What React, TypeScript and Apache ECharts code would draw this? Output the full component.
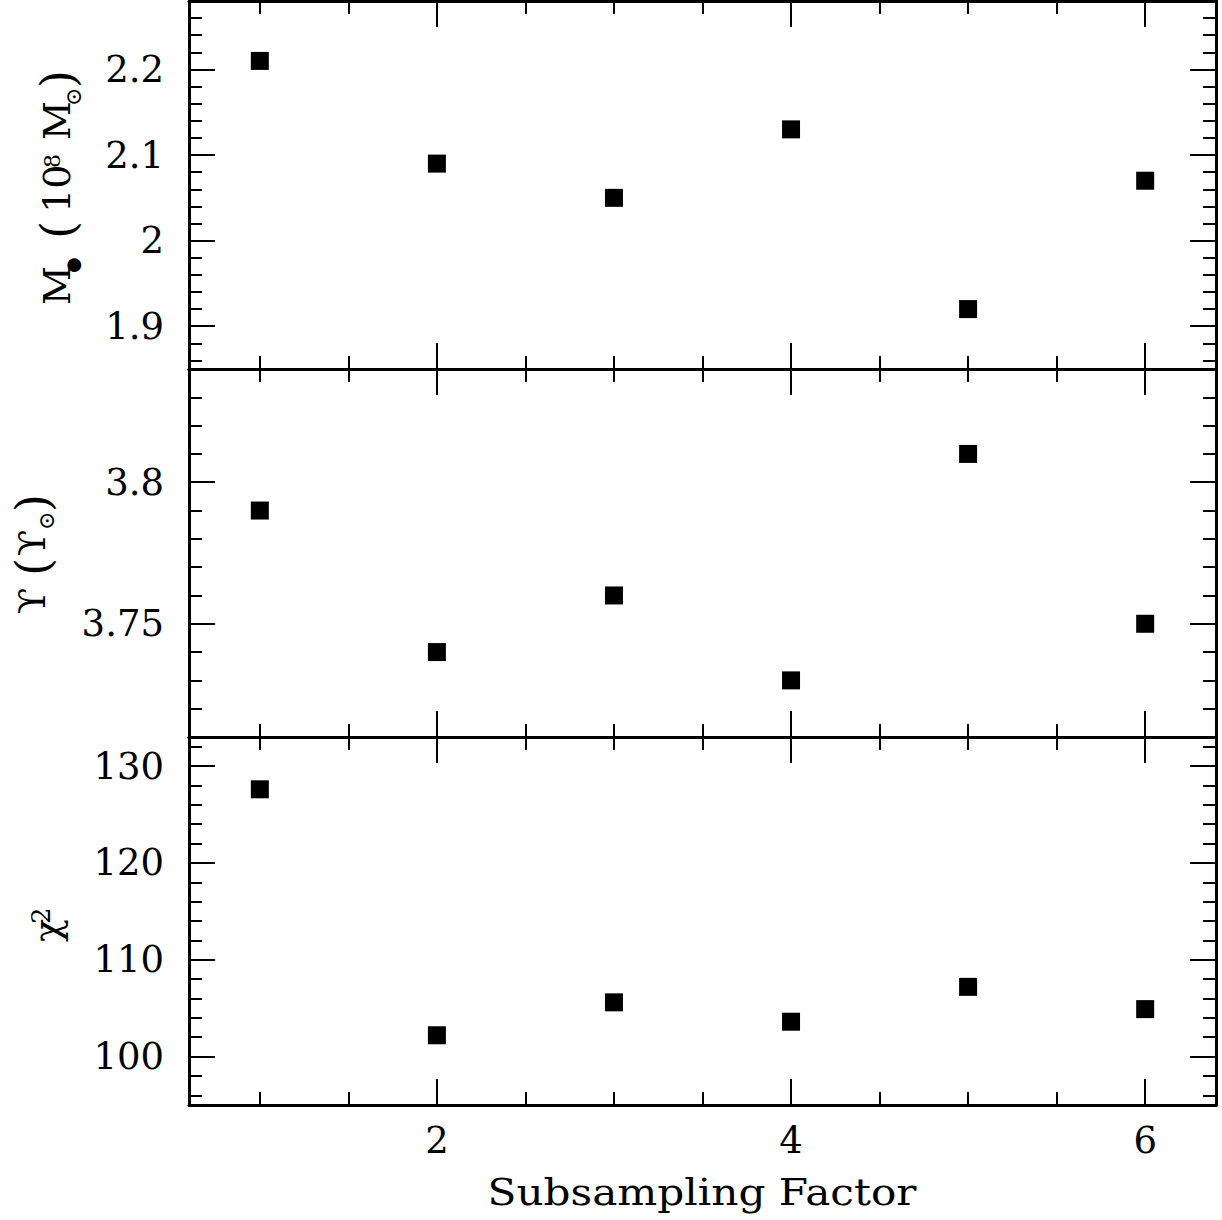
import React, { useEffect, useRef } from "react";
import * as echarts from "echarts";

// ---------------- data ----------------
const factors = [1, 2, 3, 4, 5, 6];
const massValues = [2.21, 2.09, 2.05, 2.13, 1.92, 2.07];
const mlValues = [3.79, 3.74, 3.76, 3.73, 3.81, 3.75];
const chi2Values = [127.6, 102.2, 105.6, 103.6, 107.2, 104.9];

const xMajorTicks = [2, 4, 6];
const xMinorTicks = [1, 1.5, 2.5, 3, 3.5, 4.5, 5, 5.5];

const massMajorTicks = [1.9, 2.0, 2.1, 2.2];
const mlMajorTicks = [3.75, 3.8];
const chi2MajorTicks = [100, 110, 120, 130];

const X_TITLE = "Subsampling Factor";

const X_MIN = 0.6;
const X_MAX = 6.4;

const FONT = '"DejaVu Serif", "Liberation Serif", serif';

function steps(start: number, end: number, step: number): number[] {
  const out: number[] = [];
  const n = Math.round((end - start) / step);
  for (let i = 0; i <= n; i++) out.push(+(start + i * step).toFixed(6));
  return out;
}

const panels = [
  { values: massValues, min: 1.85, max: 2.28, major: massMajorTicks, minor: steps(1.86, 2.28, 0.02) },
  { values: mlValues, min: 3.71, max: 3.84, major: mlMajorTicks, minor: steps(3.71, 3.84, 0.01) },
  { values: chi2Values, min: 95, max: 133, major: chi2MajorTicks, minor: steps(96, 132, 2) },
];

const GRID_LEFT = 189;
const GRID_RIGHT = 6;
const GRID_TOP = 1;
const PANEL_H = 368;

// part: text, font size, baseline shift (+ = subscript), screen y where the piece starts (reading upward)
type Part = { text: string; size: number; shift: number; at: number };

function rotatedLabel(parts: Part[], baselineX: number) {
  const children = parts.map((p) => ({
    type: "text",
    x: -p.at,
    y: p.shift - 0.35 * p.size,
    style: {
      text: p.text,
      fontSize: p.size,
      fontFamily: FONT,
      fill: "#000",
      align: "left",
      verticalAlign: "middle",
      textAlign: "left",
      textVerticalAlign: "middle",
    },
  }));
  return { type: "group", x: baselineX, y: 0, rotation: Math.PI / 2, children };
}

export default function App() {
  const ref = useRef<HTMLDivElement>(null);

  useEffect(() => {
    if (!ref.current) return;
    const chart = echarts.init(ref.current, null, { renderer: "svg" });

    const grids: any[] = [];
    const xAxes: any[] = [];
    const yAxes: any[] = [];
    const series: any[] = [];

    const lineStyle = { color: "#000", width: 3 };
    const tickStyle = { color: "#000", width: 2 };
    const labelStyle = { color: "#000", fontFamily: FONT, fontSize: 37 };

    panels.forEach((p, g) => {
      grids.push({
        left: GRID_LEFT,
        right: GRID_RIGHT,
        top: GRID_TOP + g * PANEL_H,
        height: PANEL_H,
      });
      const isBottom = g === panels.length - 1;

      const baseX = (position: string, ticks: number[], len: number, showLine: boolean, showLabel: boolean) => ({
        type: "value",
        gridIndex: g,
        position,
        min: X_MIN,
        max: X_MAX,
        axisLine: { show: showLine, lineStyle },
        axisTick: { show: true, inside: true, length: len, lineStyle: tickStyle, customValues: ticks },
        axisLabel: showLabel
          ? { show: true, margin: 17, ...labelStyle, customValues: xMajorTicks }
          : { show: false },
        splitLine: { show: false },
      });

      const xMainIndex = xAxes.length;
      xAxes.push(baseX("bottom", xMajorTicks, 26, true, isBottom));
      xAxes.push(baseX("bottom", xMinorTicks, 13, false, false));
      xAxes.push(baseX("top", xMajorTicks, 26, true, false));
      xAxes.push(baseX("top", xMinorTicks, 13, false, false));

      const baseY = (position: string, ticks: number[], len: number, showLine: boolean, showLabel: boolean) => ({
        type: "value",
        gridIndex: g,
        position,
        min: p.min,
        max: p.max,
        axisLine: { show: showLine, lineStyle },
        axisTick: { show: true, inside: true, length: len, lineStyle: tickStyle, customValues: ticks },
        axisLabel: showLabel
          ? { show: true, margin: 25, ...labelStyle, customValues: p.major }
          : { show: false },
        splitLine: { show: false },
      });

      const yMainIndex = yAxes.length;
      yAxes.push(baseY("left", p.major, 26, true, true));
      yAxes.push(baseY("left", p.minor, 13, false, false));
      yAxes.push(baseY("right", p.major, 26, true, false));
      yAxes.push(baseY("right", p.minor, 13, false, false));

      series.push({
        type: "scatter",
        xAxisIndex: xMainIndex,
        yAxisIndex: yMainIndex,
        symbol: "rect",
        symbolSize: 18,
        itemStyle: { color: "#000", opacity: 1 },
        data: factors.map((f, i) => [f, p.values[i]]),
      });
    });

    const graphic = [
      rotatedLabel(
        [
          { text: "M", size: 38, shift: 0, at: 305 },
          { text: "●", size: 18, shift: 9, at: 273 },
          { text: "(", size: 46, shift: 4, at: 239 },
          { text: "10", size: 38, shift: 0, at: 213 },
          { text: "8", size: 22, shift: -10, at: 168 },
          { text: "M", size: 38, shift: 0, at: 140 },
          { text: "⊙", size: 22, shift: 11, at: 106 },
          { text: ")", size: 46, shift: 4, at: 88 },
        ],
        70
      ),
      rotatedLabel(
        [
          { text: "ϒ", size: 38, shift: 0, at: 614 },
          { text: "(", size: 46, shift: 4, at: 576 },
          { text: "ϒ", size: 38, shift: 0, at: 556 },
          { text: "⊙", size: 22, shift: 9, at: 530 },
          { text: ")", size: 46, shift: 4, at: 512 },
        ],
        45
      ),
      rotatedLabel(
        [
          { text: "χ", size: 38, shift: 0, at: 942 },
          { text: "2", size: 26, shift: -10, at: 924 },
        ],
        60
      ),
      {
        type: "text",
        x: 702,
        y: 1205 - 0.35 * 38,
        scaleX: 1.11,
        style: {
          text: X_TITLE,
          fontSize: 38,
          fontFamily: FONT,
          fill: "#000",
          align: "center",
          verticalAlign: "middle",
          textAlign: "center",
          textVerticalAlign: "middle",
        },
      },
    ];

    chart.setOption({
      animation: false,
      backgroundColor: "#fff",
      grid: grids,
      xAxis: xAxes,
      yAxis: yAxes,
      series,
      graphic,
    });

    return () => chart.dispose();
  }, []);

  return (
    <div
      ref={ref}
      style={{ position: "absolute", left: 0, top: 0, width: 1222, height: 1220, background: "#fff" }}
    />
  );
}
